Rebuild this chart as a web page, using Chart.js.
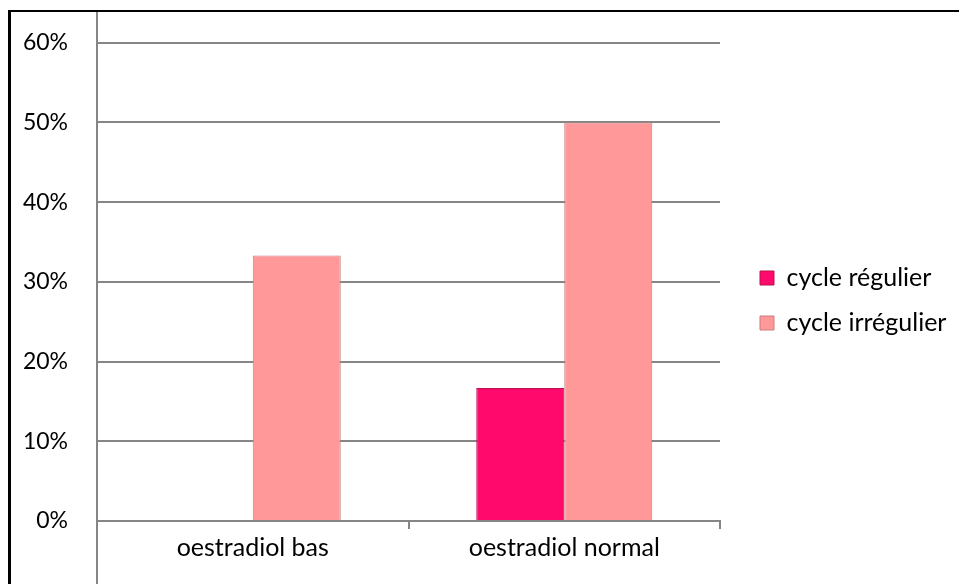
<!DOCTYPE html>
<html>
<head>
<meta charset="utf-8">
<script src="https://cdn.jsdelivr.net/npm/chart.js@4"></script>
<style>
  html, body { margin: 0; padding: 0; background: #fff; }
  #wrap { position: relative; width: 959px; height: 584px; }
  canvas { display: block; }
</style>
</head>
<body>
<div id="wrap"><canvas id="c" width="959" height="584"></canvas></div>
<script>
// ---- data ----
const categories = ["oestradiol bas", "oestradiol normal"];
const seriesNames = ["cycle régulier", "cycle irrégulier"];
const regulierValues = [0, 16.7];
const irregulierValues = [33.3, 50];
const yTicksMax = 60;
const yTickStep = 10;

// ---- style / layout constants ----
const FONT = "Lato";
const FONT_SIZE = 25;
const Y_FONT_SIZE = 23;
const GRID = "#868686";
const PLOT_LEFT = 97, PLOT_RIGHT = 720, PLOT_TOP = 41, PLOT_BOTTOM = 521;
const W = 959, H = 584;
const LEGEND_GAP = 40;      // chart area right edge -> legend box
const LEGEND_ROW1_MID = 278;

const framePlugin = {
  id: 'frame',
  beforeInit(chart) {
    const lg = chart.legend;
    if (lg) {
      const fit = lg.fit.bind(lg);
      lg.fit = function () { fit(); this.width = W - PLOT_RIGHT; };
    }
  },
  afterLayout(chart) {
    const lg = chart.legend;
    if (!lg) return;
    const pad = lg.options.labels.padding;
    const dx = chart.chartArea.right + LEGEND_GAP - (lg.left + pad);
    lg.left += dx; lg.right += dx;
    const itemH = Math.max(FONT_SIZE, lg.options.labels.boxHeight);
    const colH = lg.legendItems.length * (itemH + pad);
    const curY = (lg.top + pad + lg.bottom - colH) / 2;
    const dy = (LEGEND_ROW1_MID - itemH / 2) - curY;
    lg.top += dy; lg.bottom += dy;
  },
  afterDraw(chart) {
    const ctx = chart.ctx;
    const a = chart.chartArea;
    ctx.save();
    ctx.strokeStyle = GRID;
    ctx.lineWidth = 2;
    ctx.beginPath();
    ctx.moveTo(a.left, 12);
    ctx.lineTo(a.left, H);
    ctx.stroke();
    ctx.strokeStyle = "#000";
    ctx.lineWidth = 3;
    ctx.beginPath();
    ctx.moveTo(9.5, H);
    ctx.lineTo(9.5, 11);
    ctx.stroke();
    ctx.lineWidth = 2;
    ctx.beginPath();
    ctx.moveTo(8, 11);
    ctx.lineTo(W, 11);
    ctx.stroke();
    ctx.restore();
  }
};

new Chart(document.getElementById('c'), {
  type: 'bar',
  data: {
    labels: categories,
    datasets: [
      {
        label: seriesNames[0],
        data: regulierValues,
        backgroundColor: '#FF0A6C',
        borderColor: '#B8104F',
        borderWidth: 1,
        borderSkipped: 'bottom'
      },
      {
        label: seriesNames[1],
        data: irregulierValues,
        backgroundColor: '#FF9999',
        borderColor: '#C97C7C',
        borderWidth: 1,
        borderSkipped: 'bottom'
      }
    ]
  },
  options: {
    responsive: false,
    animation: false,
    devicePixelRatio: 1,
    layout: { padding: { left: 0, right: 0, top: PLOT_TOP, bottom: 0 } },
    datasets: { bar: { categoryPercentage: 0.565, barPercentage: 1.0 } },
    plugins: {
      tooltip: { enabled: false },
      legend: {
        position: 'right',
        align: 'center',
        labels: {
          color: '#000',
          font: { family: FONT, size: FONT_SIZE },
          boxWidth: 14,
          boxHeight: 14,
          padding: 20
        }
      }
    },
    scales: {
      x: {
        offset: true,
        grid: {
          display: true,
          offset: true,
          drawOnChartArea: false,
          drawTicks: true,
          tickLength: 8,
          color: GRID,
          lineWidth: 2
        },
        border: { display: true, color: GRID, width: 2 },
        ticks: {
          color: '#000',
          font: { family: FONT, size: FONT_SIZE },
          padding: 4,
          maxRotation: 0
        },
        afterFit(scale) { scale.height = H - PLOT_BOTTOM; }
      },
      y: {
        min: 0,
        max: yTicksMax,
        ticks: {
          stepSize: yTickStep,
          color: '#000',
          font: { family: FONT, size: Y_FONT_SIZE },
          padding: 29,
          callback: v => v + '%'
        },
        grid: {
          color: GRID,
          lineWidth: 2,
          drawTicks: false
        },
        border: { display: false },
        afterFit(scale) { scale.width = PLOT_LEFT; }
      }
    }
  },
  plugins: [framePlugin]
});
</script>
</body>
</html>
